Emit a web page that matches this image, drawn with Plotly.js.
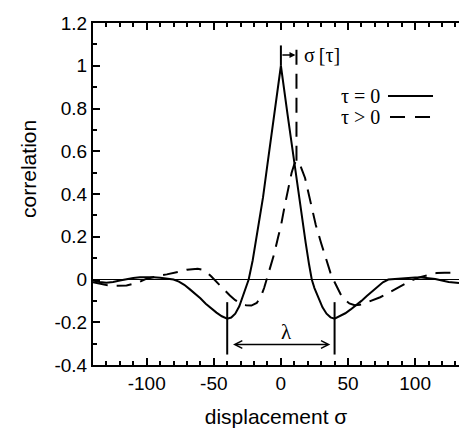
<!DOCTYPE html>
<html>
<head>
<meta charset="utf-8">
<script src="https://cdn.plot.ly/plotly-3.0.1.min.js"></script>
<style>html,body{margin:0;padding:0;background:#fff;}#chart{width:459px;height:428px;}</style>
</head>
<body>
<div id="chart"></div>
<script>
// tau = 0 (solid)
const sigmaSolid = [-140,-135,-130,-125,-120,-115,-110,-105,-100,-95,-90,-85,-80,-76,-72,-68,-64,-60,-56,-52,-48,-44,-40,-37,-34,-31,-28,-25.5,-24,-21,-18.5,-16,-13.3,-10,-5,0,5,10,13.3,16,18.5,21,23,25,28,31,34,37,40,44,48,52,56,60,64,68,72,76,80,85,90,100,105,110,115,120,125,132.7];
const corrSolid = [-0.005,-0.012,-0.015,-0.012,-0.005,0.002,0.007,0.01,0.011,0.01,0.008,0.005,0.0,-0.01,-0.025,-0.045,-0.065,-0.088,-0.113,-0.135,-0.155,-0.172,-0.183,-0.178,-0.16,-0.125,-0.07,-0.02,0.0,0.09,0.18,0.27,0.385,0.54,0.77,1.0,0.77,0.54,0.385,0.27,0.17,0.07,0.0,-0.04,-0.09,-0.13,-0.16,-0.177,-0.183,-0.172,-0.158,-0.14,-0.122,-0.1,-0.077,-0.055,-0.032,-0.013,0.0,0.003,0.006,0.009,0.009,0.007,0.002,-0.005,-0.012,-0.016];
// tau > 0 (dashed)
const sigmaDashed = [-140,-135,-130,-125,-120,-115,-110,-105,-100,-95,-90,-85,-80,-75,-70,-65,-62,-58,-55,-52,-49,-46,-42,-38,-34,-30,-26,-22,-18,-15,-12.5,-10.5,-8,-5,-2,0,3,6,8,10,11.6,13,15,18,22,26,30,34,37,39,42,45,48,51,55,59,63,68,74,81,86,91,97,103,110,116,122,132.7];
const corrDashed = [-0.013,-0.02,-0.026,-0.03,-0.03,-0.028,-0.02,-0.01,0.004,0.012,0.018,0.024,0.03,0.038,0.046,0.05,0.05,0.045,0.033,0.015,-0.005,-0.025,-0.05,-0.075,-0.097,-0.112,-0.12,-0.122,-0.11,-0.08,-0.04,0.0,0.05,0.12,0.2,0.25,0.35,0.45,0.5,0.54,0.555,0.55,0.525,0.475,0.365,0.255,0.17,0.085,0.03,0.0,-0.04,-0.075,-0.097,-0.112,-0.12,-0.118,-0.11,-0.097,-0.083,-0.06,-0.042,-0.024,-0.005,0.01,0.022,0.03,0.032,0.032];

const xTickVals = [-100,-50,0,50,100];
const xTickText = ['-100','-50','0','50','100'];
const yTickVals = [-0.4,-0.2,0,0.2,0.4,0.6,0.8,1,1.2];
const yTickText = ['-0.4','-0.2','0','0.2','0.4','0.6','0.8','1','1.2'];
const legendLabels = ['\u03c4 = 0', '\u03c4 > 0'];
const xTitle = 'displacement \u03c3';
const yTitle = 'correlation';

// annotation values
const shiftSigma = 11.6;      // sigma[tau]
const peakSolid = 1.0;
const peakDashed = 0.555;
const markerTop = 1.095;
const shiftArrowY = 1.05;
const lambdaHalf = 40;
const lambdaLineTop = -0.106;
const lambdaLineBottom = -0.351;
const lambdaArrowY = -0.304;
const lambdaArrowHalf = 36.8;

const serif = '"Liberation Serif", "Times New Roman", serif';
const sans = '"Liberation Sans", Arial, sans-serif';
const xRange = [-140, 132.7];

const traces = [
  {x: sigmaSolid, y: corrSolid, type: 'scatter', mode: 'lines', name: legendLabels[0],
   line: {color: '#000', width: 2}, showlegend: false},
  {x: sigmaDashed, y: corrDashed, type: 'scatter', mode: 'lines', name: legendLabels[1],
   line: {color: '#000', width: 2, dash: '15px,9px'}, showlegend: false},
  // invisible trace to carry the top axis with minor ticks
  {x: sigmaSolid, y: corrSolid, xaxis: 'x2', type: 'scatter', mode: 'lines',
   line: {color: 'rgba(0,0,0,0)', width: 0}, showlegend: false, hoverinfo: 'skip'}
];

const minorX = {dtick: 10, tick0: 0, ticks: 'inside', ticklen: 4, tickwidth: 2, tickcolor: '#000', showgrid: false};

const layout = {
  width: 459, height: 428,
  margin: {l: 93, r: 0, t: 23, b: 63},
  paper_bgcolor: '#fff', plot_bgcolor: '#fff',
  showlegend: false,
  font: {family: sans, color: '#000', size: 19},
  xaxis: {
    range: xRange, tickvals: xTickVals, ticktext: xTickText,
    ticks: 'inside', ticklen: 7, tickwidth: 2, tickcolor: '#000',
    minor: minorX,
    showline: true, linewidth: 2, linecolor: '#000', mirror: false,
    showgrid: false, zeroline: false,
    tickfont: {family: sans, size: 19, color: '#000'},
    title: {text: xTitle, font: {family: sans, size: 21, color: '#000'}, standoff: 18}
  },
  xaxis2: {
    range: xRange, tickmode: 'linear', tick0: 0, dtick: 50,
    overlaying: 'x', side: 'top', anchor: 'y',
    ticks: 'inside', ticklen: 7, tickwidth: 2, tickcolor: '#000',
    minor: minorX,
    showticklabels: false, showline: true, linewidth: 2, linecolor: '#000',
    showgrid: false, zeroline: false
  },
  yaxis: {
    range: [-0.4, 1.2], tickvals: yTickVals, ticktext: yTickText,
    ticks: 'inside', ticklen: 7, tickwidth: 2, tickcolor: '#000',
    minor: {dtick: 0.1, tick0: 0, ticks: 'inside', ticklen: 4, tickwidth: 2, tickcolor: '#000', showgrid: false},
    showline: true, linewidth: 2, linecolor: '#000', mirror: false,
    showgrid: false, zeroline: true, zerolinecolor: '#000', zerolinewidth: 1,
    tickfont: {family: sans, size: 19, color: '#000'}
  },
  shapes: [
    {type: 'line', xref: 'x', yref: 'y', x0: 0, x1: 0, y0: peakSolid, y1: markerTop, line: {color: '#000', width: 2}},
    {type: 'line', xref: 'x', yref: 'y', x0: shiftSigma, x1: shiftSigma, y0: peakDashed, y1: markerTop, line: {color: '#000', width: 2, dash: '15px,9px'}},
    {type: 'line', xref: 'x', yref: 'y', x0: -lambdaHalf, x1: -lambdaHalf, y0: lambdaLineTop, y1: lambdaLineBottom, line: {color: '#000', width: 2}},
    {type: 'line', xref: 'x', yref: 'y', x0: lambdaHalf, x1: lambdaHalf, y0: lambdaLineTop, y1: lambdaLineBottom, line: {color: '#000', width: 2}},
    // legend samples
    {type: 'line', xref: 'paper', yref: 'paper', x0: 0.806, x1: 0.929, y0: 0.7865, y1: 0.7865, line: {color: '#000', width: 2}},
    {type: 'line', xref: 'paper', yref: 'paper', x0: 0.8115, x1: 0.934, y0: 0.725, y1: 0.725, line: {color: '#000', width: 2, dash: '15px,10px'}}
  ],
  annotations: [
    {xref: 'paper', yref: 'paper', x: -0.178, y: 0.573, textangle: -90, xanchor: 'center', yanchor: 'middle',
     text: yTitle, showarrow: false, font: {family: sans, size: 21, color: '#000'}},
    {xref: 'x', yref: 'y', x: shiftSigma, y: shiftArrowY, ax: 0, ay: shiftArrowY, axref: 'x', ayref: 'y',
     text: '', showarrow: true, arrowhead: 2, arrowsize: 0.8, arrowwidth: 1.5, arrowcolor: '#000', standoff: 1},
    {xref: 'x', yref: 'y', x: shiftSigma, y: shiftArrowY, xanchor: 'left', yanchor: 'middle', xshift: 6,
     text: '\u03c3\u2009[\u03c4]', showarrow: false, font: {family: serif, size: 20, color: '#000'}},
    {xref: 'x', yref: 'y', x: lambdaArrowHalf, y: lambdaArrowY, ax: -lambdaArrowHalf, ay: lambdaArrowY, axref: 'x', ayref: 'y',
     text: '', showarrow: true, arrowhead: 5, startarrowhead: 5, arrowside: 'end+start', arrowsize: 1, startarrowsize: 1, arrowwidth: 1.5, arrowcolor: '#000'},
    {xref: 'x', yref: 'y', x: 4, y: -0.245, text: '\u03bb', showarrow: false, font: {family: serif, size: 21, color: '#000'}},
    {xref: 'paper', yref: 'paper', x: 0.672, y: 0.7865, xanchor: 'left', yanchor: 'middle', text: legendLabels[0], showarrow: false, font: {family: serif, size: 20, color: '#000'}},
    {xref: 'paper', yref: 'paper', x: 0.672, y: 0.725, xanchor: 'left', yanchor: 'middle', text: legendLabels[1], showarrow: false, font: {family: serif, size: 20, color: '#000'}}
  ]
};

Plotly.newPlot('chart', traces, layout, {displayModeBar: false, staticPlot: true});
</script>
</body>
</html>
